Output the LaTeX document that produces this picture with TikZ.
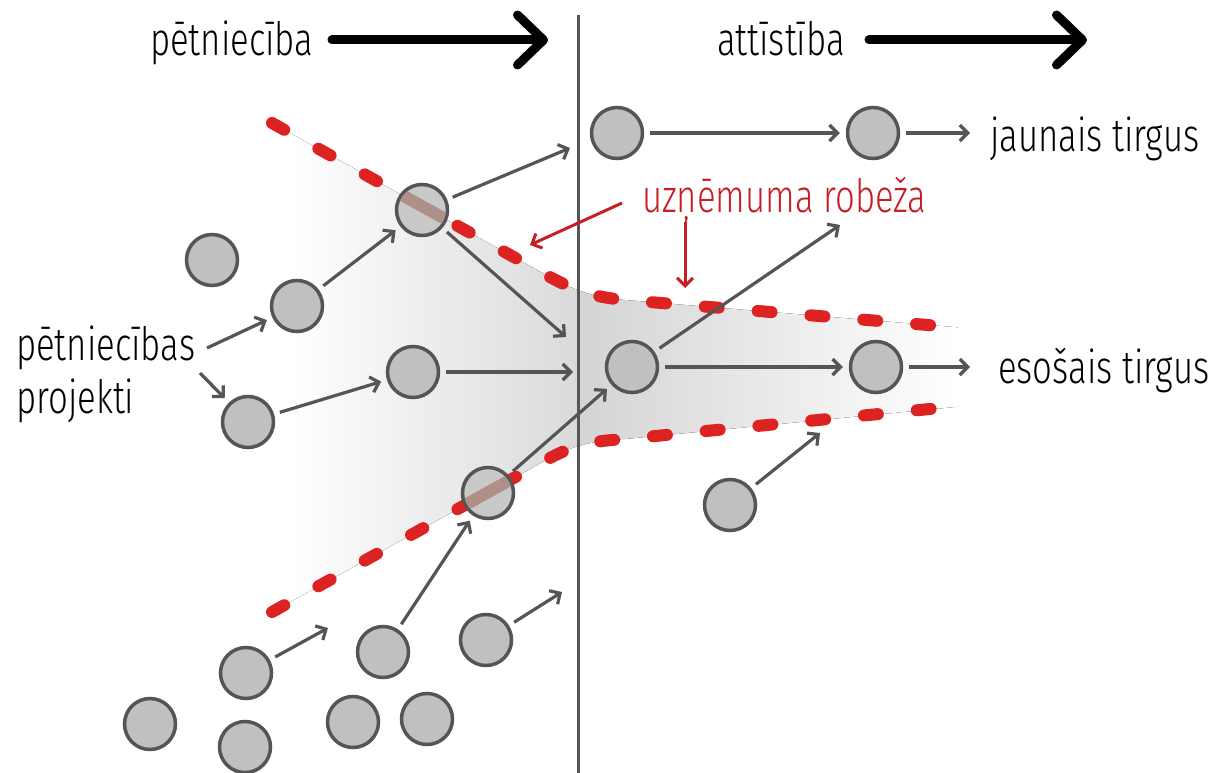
\documentclass[tikz,border=0pt]{standalone}
\usepackage{fontspec}
\setmainfont{Fira Sans Light}[FakeStretch=0.755]
\usetikzlibrary{arrows.meta}

\definecolor{ink}{HTML}{555555}
\definecolor{dot}{HTML}{C0C0C0}
\definecolor{dotlight}{HTML}{C9C9C9}
\definecolor{bound}{HTML}{DD2222}
\definecolor{mixed}{HTML}{AE9088}
\definecolor{labelred}{HTML}{C51F26}
\definecolor{shadeL}{HTML}{DADADA}
\definecolor{shadeR}{HTML}{D4D4D4}

\begin{document}
\begin{tikzpicture}[x=1pt,y=-1pt,
  proj/.style={circle, draw=ink, fill=dot, line width=3.5pt, minimum size=51pt, inner sep=0pt},
  edgeproj/.style={proj, fill=dotlight},
  flow/.style={draw=ink, line width=3.2pt, -{Straight Barb[length=8pt,width=16pt]}},
  sg/.style={shorten <=6pt},
  eg/.style={shorten >=6pt},
  redflow/.style={draw=labelred, line width=3pt, -{Straight Barb[length=8pt,width=16pt]}},
  boundary/.style={draw=bound, line width=12pt, line cap=round, dash pattern=on 14pt off 39pt},
  stripe/.style={draw=mixed, line width=12pt},
  big/.style={font=\fontsize{46}{50}\selectfont, inner sep=0pt, anchor=base west},
  phase/.style={draw=black, line width=9pt, line cap=round, -{Straight Barb[length=26pt,width=50pt,round]}},
]
\useasboundingbox (0,0) rectangle (1223,773);

% grey funnel between the company boundaries
\begin{scope}
  \clip (272,123) -- (548,276) .. controls (574,290) and (592,297) .. (625,300) -- (965,328)
        -- (965,406) -- (625,439) .. controls (592,441) and (574,445) .. (548,459) -- (272,612) -- cycle;
  \fill[left color=white, right color=shadeL] (290,100) rectangle (578,640);
  \fill[left color=shadeR, right color=white] (578,250) rectangle (958,470);
\end{scope}

% research | development divider
\coordinate (divtop) at (578,15);
\coordinate (divbot) at (578,773);
\draw[ink, line width=3pt] (divtop) -- (divbot);

% company boundary
\draw[boundary] (272,123) -- (548,276) .. controls (574,290) and (592,297) .. (625,300) -- (940,326);
\draw[boundary] (272,612) -- (548,459) .. controls (574,445) and (592,441) .. (625,439) -- (940,408);

% projects
\node[proj] (A) at (212,260) {};
\node[proj] (B) at (297,306) {};
\node[proj] (D) at (413,372) {};
\node[proj] (E) at (248,422) {};
\node[proj] (F) at (632,367) {};
\node[proj] (H) at (876,367) {};
\node[proj] (I) at (730,505) {};
\node[proj] (T1) at (617,133) {};
\node[proj] (T2) at (873,133) {};
\node[proj] (J) at (246,673) {};
\node[proj] (K) at (383,652) {};
\node[proj] (L) at (486,640) {};
\node[proj] (M) at (150,724) {};
\node[proj] (N) at (245,747) {};
\node[proj] (O) at (353,722) {};
\node[proj] (P) at (427,719) {};

% projects lying on the boundary, the boundary showing through
\node[edgeproj] (C) at (422,210) {};
\begin{scope}
  \clip (422,210) circle (23.8);
  \draw[stripe] (272,123) -- (548,276);
\end{scope}
\node[edgeproj] (G) at (488,493) {};
\begin{scope}
  \clip (488,493) circle (23.8);
  \draw[stripe] (272,612) -- (548,459);
\end{scope}

% labels
\node[big] (hdrR) at (150,56) {pētniecība};
\node[big] (hdrD) at (717,56) {attīstība};
\node[big] (newm) at (990,152) {jaunais tirgus};
\node[big] (oldm) at (998,383) {esošais tirgus};
\node[big] (proj1) at (16,360) {pētniecības};
\node[big] (proj2) at (16,413) {projekti};
\node[big, text=labelred] (lim) at (642,212) {uzņēmuma robeža};

% phase arrows
\coordinate (h1s) at (332,40);
\coordinate (h1e) at (548,40);
\coordinate (h2s) at (869,40);
\coordinate (h2e) at (1087,40);
\draw[phase] (h1s) -- (h1e);
\draw[phase] (h2s) -- (h2e);

% free ends of flows
\coordinate (pa) at (207,348);
\coordinate (pb) at (200,373);
\coordinate (c1) at (570,148);
\coordinate (c2) at (566,337);
\coordinate (d1) at (573,372);
\coordinate (j1) at (328,628);
\coordinate (l1) at (562,592);
\coordinate (t2) at (970,133);
\coordinate (f1) at (840,225);
\coordinate (h1) at (970,367);
\coordinate (i1) at (820,433);

% project flows
\draw[flow, eg] (pa) -- (B);
\draw[flow, eg] (pb) -- (E);
\draw[flow, sg, eg] (E) -- (D);
\draw[flow, sg, eg] (B) -- (C);
\draw[flow, sg] (C) -- (c1);
\draw[flow, sg] (C) -- (c2);
\draw[flow, sg] (D) -- (d1);
\draw[flow, sg, eg] (G) -- (F);
\draw[flow, sg, eg] (K) -- (G);
\draw[flow, sg] (J) -- (j1);
\draw[flow, sg] (L) -- (l1);
\draw[flow, sg, eg] (T1) -- (T2);
\draw[flow, sg] (T2) -- (t2);
\draw[flow, sg] (F) -- (f1);
\draw[flow, sg, eg] (F) -- (H);
\draw[flow, sg] (H) -- (h1);
\draw[flow, sg] (I) -- (i1);

% pointers to the boundary
\coordinate (r1s) at (622,203);
\coordinate (r1e) at (530,245);
\coordinate (r2s) at (685,222);
\coordinate (r2e) at (685,288);
\draw[redflow] (r1s) -- (r1e);
\draw[redflow] (r2s) -- (r2e);
\end{tikzpicture}
\end{document}
